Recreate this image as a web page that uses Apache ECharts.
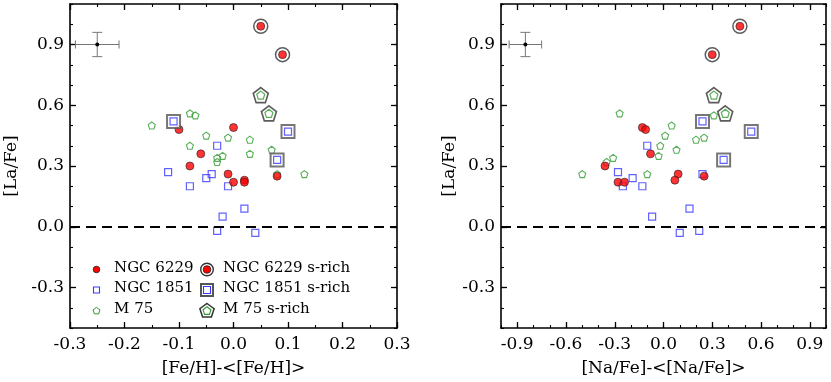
<!DOCTYPE html>
<html>
<head>
<meta charset="utf-8">
<script src="https://cdn.jsdelivr.net/npm/echarts@6/dist/echarts.min.js"></script>
<style>
html, body { margin: 0; padding: 0; background: #fff; }
#chart { width: 831px; height: 382px; }
</style>
</head>
<body>
<div id="chart"></div>
<script>
// left panel: [Fe/H]-<[Fe/H]> , [La/Fe]
var n6229Fe = [[-0.10, 0.48], [0.00, 0.49], [-0.06, 0.36], [-0.08, 0.30], [-0.01, 0.26], [0.00, 0.22], [0.02, 0.23], [0.02, 0.22], [0.08, 0.25]];
var n6229RichFe = [[0.05, 0.99], [0.09, 0.85]];
var n1851Fe = [[-0.12, 0.27], [-0.08, 0.20], [-0.05, 0.24], [-0.04, 0.26], [-0.03, 0.40], [-0.01, 0.20], [-0.02, 0.05], [-0.03, -0.02], [0.02, 0.09], [0.04, -0.03]];
var n1851RichFe = [[-0.11, 0.52], [0.10, 0.47], [0.08, 0.33]];
var m75Fe = [[-0.15, 0.50], [-0.08, 0.56], [-0.07, 0.55], [-0.05, 0.45], [-0.01, 0.44], [0.03, 0.43], [-0.08, 0.40], [-0.03, 0.34], [-0.02, 0.35], [-0.03, 0.32], [0.03, 0.36], [0.07, 0.38], [0.08, 0.26], [0.13, 0.26]];
var m75RichFe = [[0.05, 0.65], [0.065, 0.56]];

// right panel: [Na/Fe]-<[Na/Fe]> , [La/Fe]
var n6229Na = [[-0.36, 0.30], [-0.28, 0.22], [-0.24, 0.22], [-0.13, 0.49], [-0.11, 0.48], [-0.08, 0.36], [0.09, 0.26], [0.07, 0.23], [0.25, 0.25]];
var n6229RichNa = [[0.47, 0.99], [0.30, 0.85]];
var n1851Na = [[-0.28, 0.27], [-0.25, 0.20], [-0.19, 0.24], [-0.13, 0.20], [-0.10, 0.40], [-0.07, 0.05], [0.16, 0.09], [0.10, -0.03], [0.22, -0.02], [0.24, 0.26]];
var n1851RichNa = [[0.24, 0.52], [0.54, 0.47], [0.37, 0.33]];
var m75Na = [[-0.50, 0.26], [-0.27, 0.56], [-0.35, 0.32], [-0.31, 0.34], [-0.10, 0.26], [-0.03, 0.35], [-0.02, 0.40], [0.01, 0.45], [0.05, 0.50], [0.08, 0.38], [0.20, 0.43], [0.25, 0.44], [0.31, 0.55]];
var m75RichNa = [[0.31, 0.65], [0.38, 0.56]];

// typical error bars [x, y, ex, ey]
var errFe = [[-0.25, 0.90, 0.04, 0.06]];
var errNa = [[-0.85, 0.90, 0.10, 0.06]];

// tick labels
var laTicks = [-0.3, 0.0, 0.3, 0.6, 0.9];
var feTicks = [-0.3, -0.2, -0.1, 0.0, 0.1, 0.2, 0.3];
var naTicks = [-0.9, -0.6, -0.3, 0.0, 0.3, 0.6, 0.9];

var legendNames = ['NGC 6229', 'NGC 1851', 'M 75', 'NGC 6229 s-rich', 'NGC 1851 s-rich', 'M 75 s-rich'];

var FONT = 'DejaVu Serif';
var RED = '#ff0000', BLUE = '#3a3aff', GREEN = '#2f9a2f';
var PENT = 'path://M0,-10L9.511,-3.09L5.878,8.09L-5.878,8.09L-9.511,-3.09Z';

function fmt(v) { return (Math.abs(v) < 1e-9 ? 0 : v).toFixed(1); }

// 4 x axes and 4 y axes per grid: major/minor on each side
function makeAxes(gi, xMin, xMax, xMinor, xMajor, xName, yGap) {
    var xs = [], ys = [];
    ['bottom', 'top'].forEach(function (pos) {
        var main = pos === 'bottom';
        xs.push({
            type: 'value', gridIndex: gi, position: pos, min: xMin, max: xMax,
            name: main ? xName : '', nameLocation: 'middle', nameGap: 32,
            nameTextStyle: { fontFamily: FONT, fontSize: 17, color: '#000' },
            axisLine: { show: true, onZero: false, lineStyle: { color: '#000', width: 1.6 } },
            axisTick: { show: true, inside: true, length: 6, customValues: xMajor, lineStyle: { color: '#000', width: 1.3 } },
            axisLabel: { show: main, customValues: xMajor, formatter: fmt, margin: 8, fontFamily: FONT, fontSize: 17, color: '#000' },
            splitLine: { show: false }
        });
        xs.push({
            type: 'value', gridIndex: gi, position: pos, min: xMin, max: xMax, interval: xMinor,
            axisLine: { show: false, onZero: false },
            axisTick: { show: true, inside: true, length: 3, lineStyle: { color: '#000', width: 1.1 } },
            axisLabel: { show: false }, splitLine: { show: false }
        });
    });
    ['left', 'right'].forEach(function (pos) {
        var main = pos === 'left';
        ys.push({
            type: 'value', gridIndex: gi, position: pos, min: -0.5, max: 1.1,
            name: main ? '[La/Fe]' : '', nameLocation: 'middle', nameGap: yGap,
            nameTextStyle: { fontFamily: FONT, fontSize: 17, color: '#000' },
            axisLine: { show: true, onZero: false, lineStyle: { color: '#000', width: 1.6 } },
            axisTick: { show: true, inside: true, length: 6, customValues: laTicks, lineStyle: { color: '#000', width: 1.3 } },
            axisLabel: { show: main, customValues: laTicks, formatter: fmt, margin: 6, fontFamily: FONT, fontSize: 17, color: '#000' },
            splitLine: { show: false }
        });
        ys.push({
            type: 'value', gridIndex: gi, position: pos, min: -0.5, max: 1.1, interval: 0.1,
            axisLine: { show: false, onZero: false },
            axisTick: { show: true, inside: true, length: 3, lineStyle: { color: '#000', width: 1.1 } },
            axisLabel: { show: false }, splitLine: { show: false }
        });
    });
    return { xs: xs, ys: ys };
}

function renderErr(params, api) {
    var x = api.value(0), y = api.value(1), ex = api.value(2), ey = api.value(3);
    var c = api.coord([x, y]);
    var l = api.coord([x - ex, y]), r = api.coord([x + ex, y]);
    var t = api.coord([x, y + ey]), b = api.coord([x, y - ey]);
    var st = { stroke: '#777', lineWidth: 1 };
    function ln(x1, y1, x2, y2) { return { type: 'line', shape: { x1: x1, y1: y1, x2: x2, y2: y2 }, style: st }; }
    return {
        type: 'group',
        children: [
            ln(l[0], l[1], r[0], r[1]),
            ln(t[0], t[1], b[0], b[1]),
            ln(l[0], l[1] - 4, l[0], l[1] + 4),
            ln(r[0], r[1] - 4, r[0], r[1] + 4),
            ln(t[0] - 5, t[1], t[0] + 5, t[1]),
            ln(b[0] - 5, b[1], b[0] + 5, b[1]),
            { type: 'circle', shape: { cx: c[0], cy: c[1], r: 2 }, style: { fill: '#000' } }
        ]
    };
}

function makeSeries(ai, d) {
    var base = { type: 'scatter', xAxisIndex: ai, yAxisIndex: ai, silent: true };
    function s(extra) { return Object.assign({}, base, extra); }
    return [
        { type: 'custom', xAxisIndex: ai, yAxisIndex: ai, silent: true, renderItem: renderErr, data: d.err, encode: { x: 0, y: 1 }, z: 3 },
        s({ name: 'M 75', data: d.m75, symbol: PENT, symbolSize: 7,
            itemStyle: { color: 'rgba(255,255,255,0)', borderColor: GREEN, borderWidth: 1.1 },
            markLine: { silent: true, symbol: ['none', 'none'], label: { show: false },
                lineStyle: { color: '#000', width: 2, type: [10, 6] }, data: [{ yAxis: 0 }] } }),
        s({ name: 'NGC 1851', data: d.n1851, symbol: 'rect', symbolSize: 7,
            itemStyle: { color: 'rgba(255,255,255,0)', borderColor: BLUE, borderWidth: 1.2 } }),
        s({ name: 'NGC 6229', data: d.n6229, symbol: 'circle', symbolSize: 8,
            itemStyle: { color: RED, borderColor: '#222', borderWidth: 0.8 } }),
        s({ data: d.n6229Rich, symbol: 'circle', symbolSize: 14,
            itemStyle: { color: '#fff', borderColor: '#333', borderWidth: 1.5 } }),
        s({ name: 'NGC 6229 s-rich', data: d.n6229Rich, symbol: 'circle', symbolSize: 8,
            itemStyle: { color: RED, borderColor: '#222', borderWidth: 0.8 } }),
        s({ data: d.n1851Rich, symbol: 'rect', symbolSize: 13,
            itemStyle: { color: '#fff', borderColor: '#555', borderWidth: 2 } }),
        s({ name: 'NGC 1851 s-rich', data: d.n1851Rich, symbol: 'rect', symbolSize: 7,
            itemStyle: { color: '#fff', borderColor: BLUE, borderWidth: 1.2 } }),
        s({ data: d.m75Rich, symbol: PENT, symbolSize: 15,
            itemStyle: { color: '#fff', borderColor: '#333', borderWidth: 1.6 } }),
        s({ name: 'M 75 s-rich', data: d.m75Rich, symbol: PENT, symbolSize: 8,
            itemStyle: { color: '#fff', borderColor: GREEN, borderWidth: 1.2 } })
    ];
}

function pentPts(cx, cy, r) {
    var p = [];
    for (var i = 0; i < 5; i++) {
        var a = -Math.PI / 2 + i * 2 * Math.PI / 5;
        p.push([cx + r * Math.cos(a), cy + r * Math.sin(a)]);
    }
    return p;
}

// legend drawn as graphic (composite markers for s-rich)
function makeLegend() {
    var rows = [269.5, 290, 310.5];
    var cols = [[96.5, 114], [207, 223]];
    var g = [];
    legendNames.forEach(function (n, i) {
        var c = cols[Math.floor(i / 3)], y = rows[i % 3];
        g.push({ type: 'text', left: c[1], top: y - 9, style: { text: n, font: '15px "DejaVu Serif"', fill: '#000' } });
    });
    var x0 = cols[0][0], x1 = cols[1][0];
    g.push({ type: 'circle', shape: { cx: x0, cy: rows[0], r: 3.3 }, style: { fill: RED, stroke: '#222', lineWidth: 0.8 } });
    g.push({ type: 'rect', shape: { x: x0 - 3, y: rows[1] - 3, width: 6, height: 6 }, style: { fill: 'none', stroke: BLUE, lineWidth: 1.1 } });
    g.push({ type: 'polygon', shape: { points: pentPts(x0, rows[2] + 0.5, 3.6) }, style: { fill: 'none', stroke: GREEN, lineWidth: 1 } });
    g.push({ type: 'circle', shape: { cx: x1, cy: rows[0], r: 6.3 }, style: { fill: '#fff', stroke: '#333', lineWidth: 1.4 } });
    g.push({ type: 'circle', shape: { cx: x1, cy: rows[0], r: 3.8 }, style: { fill: RED, stroke: '#222', lineWidth: 0.8 } });
    g.push({ type: 'rect', shape: { x: x1 - 6, y: rows[1] - 6, width: 12, height: 12 }, style: { fill: '#fff', stroke: '#555', lineWidth: 2 } });
    g.push({ type: 'rect', shape: { x: x1 - 3.5, y: rows[1] - 3.5, width: 7, height: 7 }, style: { fill: '#fff', stroke: BLUE, lineWidth: 1.1 } });
    g.push({ type: 'polygon', shape: { points: pentPts(x1, rows[2] + 0.5, 7.5) }, style: { fill: '#fff', stroke: '#333', lineWidth: 1.5 } });
    g.push({ type: 'polygon', shape: { points: pentPts(x1, rows[2] + 0.5, 4.2) }, style: { fill: '#fff', stroke: GREEN, lineWidth: 1.1 } });
    return g;
}

var chart = echarts.init(document.getElementById('chart'));
var a0 = makeAxes(0, -0.3, 0.3, 0.05, feTicks, '[Fe/H]-<[Fe/H]>', 50);
var a1 = makeAxes(1, -1.0, 1.0, 0.1, naTicks, '[Na/Fe]-<[Na/Fe]>', 38);

var option = {
    animation: false,
    backgroundColor: '#fff',
    grid: [
        { left: 70, top: 4, width: 327, height: 326 },
        { left: 501, top: 4, width: 325, height: 326 }
    ],
    xAxis: a0.xs.concat(a1.xs),
    yAxis: a0.ys.concat(a1.ys),
    graphic: makeLegend(),
    series: makeSeries(0, { err: errFe, m75: m75Fe, n1851: n1851Fe, n6229: n6229Fe, n6229Rich: n6229RichFe, n1851Rich: n1851RichFe, m75Rich: m75RichFe })
        .concat(makeSeries(4, { err: errNa, m75: m75Na, n1851: n1851Na, n6229: n6229Na, n6229Rich: n6229RichNa, n1851Rich: n1851RichNa, m75Rich: m75RichNa }))
};
chart.setOption(option);
</script>
</body>
</html>
